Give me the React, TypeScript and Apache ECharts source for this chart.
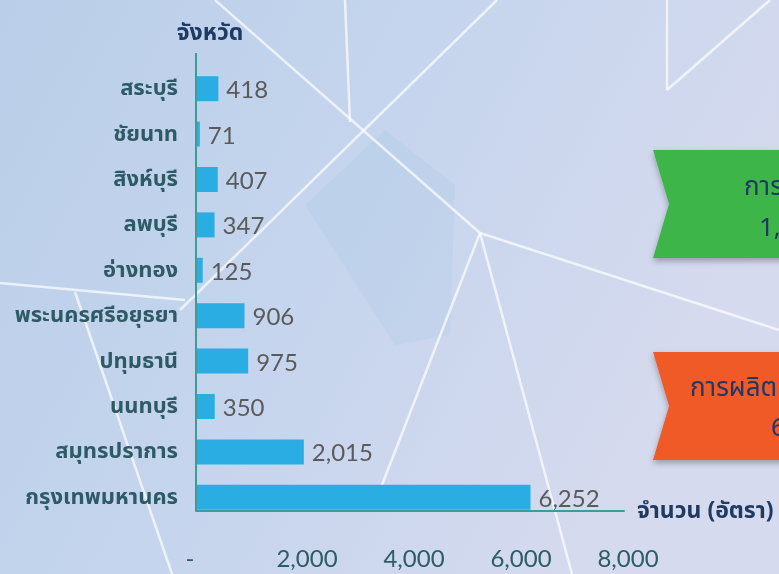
import React, { useEffect, useRef } from "react";
import * as echarts from "echarts";

const provinces = [
  "สระบุรี",
  "ชัยนาท",
  "สิงห์บุรี",
  "ลพบุรี",
  "อ่างทอง",
  "พระนครศรีอยุธยา",
  "ปทุมธานี",
  "นนทบุรี",
  "สมุทรปราการ",
  "กรุงเทพมหานคร",
];
const positions = [418, 71, 407, 347, 125, 906, 975, 350, 2015, 6252];
const xTicks = { min: 0, max: 8000, interval: 2000 };
const yAxisTitle = "จังหวัด";
const xAxisTitle = "จำนวน (อัตรา)";
const greenBanner = ["การ", "1,"];
const orangeBanner = ["การผลิต", "6"];

const THAI = "'Noto Sans Thai', 'Noto Sans', 'DejaVu Sans', sans-serif";
const NUM = "Lato, 'Open Sans', sans-serif";

export default function App() {
  const ref = useRef<HTMLDivElement>(null);
  useEffect(() => {
    if (!ref.current) return;
    const chart = echarts.init(ref.current, undefined, { renderer: "svg" });
    const white = "rgba(255,255,255,0.7)";
    const bgLines = [
      [215, 0, 480, 233],
      [497, 0, 180, 310],
      [345, 0, 350, 122],
      [480, 233, 779, 330],
      [480, 233, 380, 490],
      [480, 233, 572, 574],
      [0, 283, 185, 300],
      [75, 292, 172, 574],
      [667, 0, 667, 90],
      [667, 90, 770, 0],
    ];
    const ribbon = (y0: number, y1: number, color: string) => ({
      type: "polygon",
      shape: {
        points: [
          [653, y0],
          [800, y0],
          [800, y1],
          [653, y1],
          [669, (y0 + y1) / 2],
        ],
      },
      style: {
        fill: color,
        shadowBlur: 6,
        shadowOffsetY: 3,
        shadowColor: "rgba(0,0,0,0.3)",
      },
      z: 5,
    });
    const bannerText = (t: string, x: number, y: number) => ({
      type: "text",
      x,
      y,
      style: {
        text: t,
        fill: "#1f3864",
        font: `26px ${THAI}`,
        textVerticalAlign: "middle",
      },
      z: 6,
    });
    const tickStyle = { color: "#2b5d66", fontSize: 24, fontFamily: NUM };
    chart.setOption({
      animation: false,
      graphic: [
        {
          type: "rect",
          shape: { x: 0, y: 0, width: 779, height: 574 },
          style: {
            fill: {
              type: "linear",
              x: 0,
              y: 0,
              x2: 1,
              y2: 0.4,
              colorStops: [
                { offset: 0, color: "#bacee9" },
                { offset: 0.5, color: "#c5d5ed" },
                { offset: 1, color: "#d6daee" },
              ],
            },
          },
          z: -10,
          silent: true,
        },
        {
          type: "polygon",
          shape: {
            points: [
              [305, 205],
              [385, 130],
              [455, 185],
              [450, 335],
              [395, 345],
            ],
          },
          style: { fill: "rgba(150,190,230,0.15)" },
          z: -9,
          silent: true,
        },
        ...bgLines.map(([x1, y1, x2, y2]) => ({
          type: "line",
          shape: { x1, y1, x2, y2 },
          style: { stroke: white, lineWidth: 2.5 },
          z: -8,
          silent: true,
        })),
        {
          type: "line",
          shape: { x1: 196, y1: 53, x2: 196, y2: 511 },
          style: { stroke: "#3d9c98", lineWidth: 2 },
          z: 4,
        },
        ribbon(150, 258, "#3cb54a"),
        ribbon(352, 460, "#f05a28"),
        bannerText(greenBanner[0], 744, 187),
        bannerText(greenBanner[1], 759, 228),
        bannerText(orangeBanner[0], 690, 388),
        bannerText(orangeBanner[1], 771, 428),
      ],
      grid: { left: 196, right: 155, top: 66, height: 454, containLabel: false },
      xAxis: {
        type: "value",
        min: xTicks.min,
        max: xTicks.max,
        interval: xTicks.interval,
        offset: -9,
        splitLine: { show: false },
        axisTick: { show: false },
        axisLine: { show: true, lineStyle: { color: "#3d9c98", width: 2 } },
        axisLabel: {
          margin: 34,
          ...tickStyle,
          formatter: (v: number) =>
            v === 0 ? "{z|-}" : `{n|${v.toLocaleString("en-US")}}`,
          rich: {
            z: { ...tickStyle, padding: [0, 12, 0, 0] },
            n: { ...tickStyle, padding: [0, 0, 0, 8] },
          },
        },
        name: xAxisTitle,
        nameLocation: "end",
        nameGap: 13,
        nameTextStyle: {
          color: "#1f3b63",
          fontSize: 23,
          fontWeight: "bold",
          fontFamily: THAI,
          align: "left",
          verticalAlign: "middle",
          padding: [0, 0, 6, 0],
        },
      },
      yAxis: {
        type: "category",
        data: provinces,
        inverse: true,
        axisLine: { show: false },
        axisTick: { show: false },
        axisLabel: {
          margin: 18,
          color: "#2e5a66",
          fontSize: 22,
          fontWeight: "bold",
          fontFamily: THAI,
        },
        name: yAxisTitle,
        nameLocation: "start",
        nameGap: 22,
        nameTextStyle: {
          color: "#1f3b63",
          fontSize: 23,
          fontWeight: "bold",
          fontFamily: THAI,
          align: "center",
          padding: [0, 0, 0, 28],
        },
      },
      series: [
        {
          type: "bar",
          data: positions,
          barWidth: 25,
          itemStyle: { color: "#29ade3" },
          label: {
            show: true,
            position: "right",
            distance: 8,
            color: "#5a5a5a",
            fontSize: 24,
            fontFamily: NUM,
            formatter: (p: any) => Number(p.value).toLocaleString("en-US"),
          },
        },
      ],
    });
    return () => chart.dispose();
  }, []);
  return (
    <div
      ref={ref}
      style={{ position: "fixed", left: 0, top: 0, width: 779, height: 574 }}
    />
  );
}
